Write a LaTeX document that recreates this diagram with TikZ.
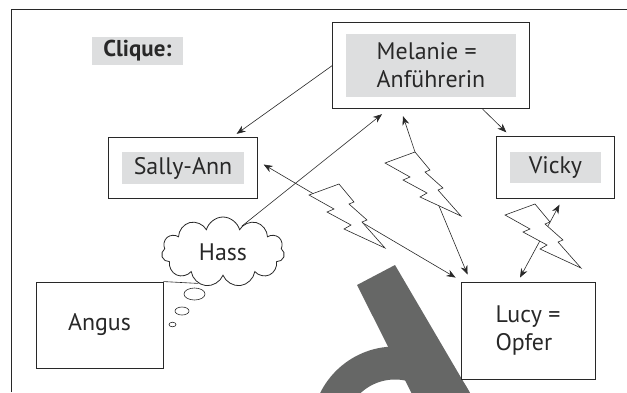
\documentclass[tikz,border=0pt]{standalone}
\usepackage{fontspec}
\setmainfont{PT Sans}
\usepackage{tikz}
\definecolor{tagGrey}{RGB}{221,222,223}
\definecolor{inkGrey}{RGB}{40,40,40}
\definecolor{markGrey}{RGB}{102,103,102}
\usetikzlibrary{arrows.meta, positioning, fit, shapes.symbols}

\tikzset{
  bolt/.pic={
    \draw[line width=0.6bp, draw=inkGrey, fill=white, line join=miter]
      (0,0) -- (30,-11) -- (45,7) -- (40,9) -- (58,25) -- (53,27) -- (76,53)
      -- (35,34) -- (42,30) -- (18,17) -- (25,14) -- cycle;
    \coordinate (-top) at (30,-11);
    \coordinate (-low) at (54,43);
  }
}

\begin{document}
\begin{tikzpicture}[
    x=1bp, y=-1bp,
    box/.style={draw=inkGrey, line width=0.9bp, fill=white, inner sep=0pt, text=inkGrey, font=\fontsize{24}{28}\selectfont},
    frame/.style={draw=inkGrey, line width=0.9bp, inner sep=0pt},
    tag/.style={fill=tagGrey, inner sep=0pt, text=inkGrey, font=\fontsize{24}{28}\selectfont},
    link/.style={-{Stealth[length=9bp, width=7bp]}, line width=0.6bp, inkGrey},
    both/.style={{Stealth[length=9bp, width=7bp]}-{Stealth[length=9bp, width=7bp]}, line width=0.6bp, inkGrey},
    bubble/.style={draw=inkGrey, line width=0.6bp}
]
    \useasboundingbox (0,0) rectangle (627,392);
    \begin{scope}
        \clip (0,0) rectangle (627,392);
        \fill[markGrey] (357,285) -- (395,265) -- (480,410) -- (420,410) -- cycle;
        \draw[markGrey, line width=33bp] (395,430) circle[radius=67bp];
    \end{scope}
    \draw[inkGrey, line width=0.8bp] (11,392) -- (11,9) -- (627,9);

    \node[tag, font=\fontsize{23}{26}\selectfont\bfseries, minimum width=91bp, minimum height=28bp] (clique) at (137.5,51) {Clique:};

    \node[tag, align=left, minimum width=170bp, minimum height=63bp] (melanieTxt) at (431,65.5) {Melanie =\\Anführerin};
    \node[frame, fit=(melanieTxt), inner xsep=13bp, inner ysep=11.5bp] (melanie) {};
    \node[tag, minimum width=122bp, minimum height=32bp] (sallyTxt) at (183,168) {Sally-Ann};
    \node[frame, fit=(sallyTxt), inner xsep=13bp, inner ysep=14.5bp] (sally) {};
    \node[tag, minimum width=91bp, minimum height=31bp] (vickyTxt) at (555.5,167.5) {Vicky};
    \node[frame, fit=(vickyTxt), inner xsep=13bp, inner ysep=15bp] (vicky) {};

    \node[box, minimum width=127bp, minimum height=86bp] (angus) at (99.5,325) {Angus};
    \node[box, align=left, minimum width=134bp, minimum height=97bp] (lucy) at (528,330.5) {Lucy =\\Opfer};
    \node[cloud, draw=inkGrey, line width=0.8bp, fill=white, cloud puffs=11, aspect=1.75,
          minimum width=123bp, minimum height=70bp, inner sep=0pt, text=inkGrey,
          font=\fontsize{24}{28}\selectfont] (hass) at (223,252) {Hass};

    \draw[bubble] (194.5,294) ellipse [x radius=10.5bp, y radius=6bp];
    \draw[bubble] (182,311) ellipse [x radius=7bp, y radius=4bp];
    \draw[bubble] (172.5,324.5) ellipse [x radius=3.5bp, y radius=2.3bp];
    \draw[inkGrey, line width=0.6bp] (angus.north east) -- (hass.232);

    \draw[link] (melanie.west) -- ([xshift=-21bp, yshift=3bp]sally.north east);
    \draw[link] ([xshift=-47bp]melanie.south east) -- ([xshift=10bp, yshift=4bp]vicky.north west);
    \draw[link] (hass.54) -- ([xshift=-49bp, yshift=-5bp]melanie.south);
    \draw[both] ([xshift=6bp, yshift=3.5bp]sally.east) -- ([xshift=-5bp, yshift=4bp]lucy.north west);
    \draw[both] ([xshift=4bp, yshift=-6bp]vicky.south) -- ([xshift=-8bp, yshift=4bp]lucy.north);

    \pic (boltA) at (309,195) {bolt};
    \pic (boltB) at (385,163) {bolt};
    \pic (boltC) at (505,215) {bolt};

    \draw[link] (boltB-top) -- ([xshift=-28bp, yshift=-7bp]melanie.south);
    \draw[link] (boltB-low) -- ([xshift=7bp, yshift=7bp]lucy.north west);
\end{tikzpicture}
\end{document}
